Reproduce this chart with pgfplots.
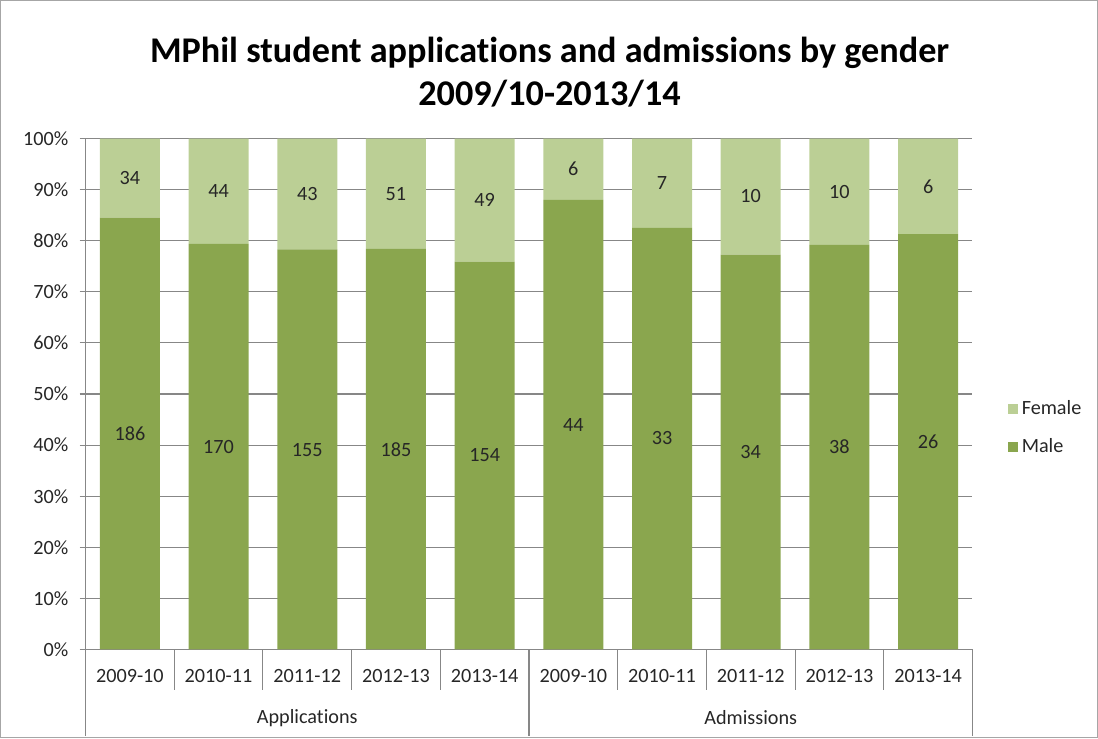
\documentclass[border=0pt]{standalone}
\usepackage{fontspec}
\setmainfont{Carlito}[Ligatures=NoCommon]
\usepackage{pgfplots}
\pgfplotsset{compat=1.18}
\definecolor{male}{HTML}{8AA64E}
\definecolor{female}{HTML}{BBCF95}
\definecolor{gridgray}{HTML}{878787}
\definecolor{txt}{HTML}{262626}

\begin{document}
\begin{tikzpicture}
% outer chart frame
\draw[gray!70, line width=0.6pt] (0,0) rectangle (21.94,-14.74);

% title
\node[align=center, text=black, font=\fontsize{20.6}{24.5}\selectfont\bfseries]
  at (10.98,-1.43) {MPhil student applications and admissions by gender\\2009/10-2013/14};

% bars
\begin{axis}[
  at={(1.70cm,-12.98cm)}, anchor=south west,
  scale only axis, width=17.74cm, height=10.22cm,
  ybar stacked, bar width=1.2cm,
  xmin=-0.5, xmax=9.5, ymin=0, ymax=100,
  xtick={0,...,9},
  xticklabels={2009-10,2010-11,2011-12,2012-13,2013-14,2009-10,2010-11,2011-12,2012-13,2013-14},
  ytick={0,10,...,100},
  yticklabels={0\%,10\%,20\%,30\%,40\%,50\%,60\%,70\%,80\%,90\%,100\%},
  x tick style={draw=none},
  y tick style={gridgray, line width=0.6pt},
  major tick length=0.12cm, tick align=outside,
  ymajorgrids, grid style={gridgray, line width=0.6pt},
  axis lines*=left, axis line style={gridgray, line width=0.6pt},
  ticklabel style={font=\fontsize{11.5}{13}\selectfont, text=txt},
  x tick label style={anchor=center, yshift=-0.42cm},
  y tick label style={xshift=-0.1cm},
  clip=false,
  reverse legend,
  legend cell align=left,
  legend style={at={(1.034,0.434)}, anchor=west, draw=none, fill=none,
    font=\fontsize{11.5}{13}\selectfont, text=txt, row sep=0.28cm},
  legend image code/.code={\fill[#1] (0cm,-0.1cm) rectangle (0.2cm,0.1cm);},
]
\addplot[fill=male, draw=none] coordinates {
  (0,84.5)(1,79.4)(2,78.3)(3,78.4)(4,75.9)(5,88.0)(6,82.5)(7,77.3)(8,79.2)(9,81.3)};
\addplot[fill=female, draw=none] coordinates {
  (0,15.5)(1,20.6)(2,21.7)(3,21.6)(4,24.1)(5,12.0)(6,17.5)(7,22.7)(8,20.8)(9,18.7)};
\legend{Male,Female}

% category separators below the axis
\pgfplotsinvokeforeach{0.5,1.5,2.5,3.5,5.5,6.5,7.5,8.5}{
  \draw[gridgray, line width=0.6pt] (axis cs:#1,0) -- ([yshift=-0.82cm]axis cs:#1,0);}
\pgfplotsinvokeforeach{-0.5,4.5,9.5}{
  \draw[gridgray, line width=0.6pt] (axis cs:#1,0) -- ([yshift=-1.74cm]axis cs:#1,0);}
\node[font=\fontsize{11.5}{13}\selectfont, text=txt] at ([yshift=-1.37cm]axis cs:2,0) {Applications};
\node[font=\fontsize{11.5}{13}\selectfont, text=txt] at ([yshift=-1.37cm]axis cs:7,0) {Admissions};
\end{axis}

% value labels (counts), centred in each segment
\begin{axis}[
  at={(1.70cm,-12.98cm)}, anchor=south west,
  scale only axis, width=17.74cm, height=10.22cm,
  xmin=-0.5, xmax=9.5, ymin=0, ymax=100,
  hide axis, clip=false,
]
\addplot[only marks, mark=*, mark size=0pt, mark options={draw=none, fill=none},
  nodes near coords, point meta=explicit symbolic,
  nodes near coords style={anchor=center, font=\fontsize{11.5}{13}\selectfont, text=txt}]
  coordinates {
  (0,42.3)[186] (1,39.7)[170] (2,39.1)[155] (3,39.2)[185] (4,38.0)[154]
  (5,44.0)[44] (6,41.3)[33] (7,38.6)[34] (8,39.6)[38] (9,40.6)[26]
  (0,92.3)[34] (1,89.7)[44] (2,89.2)[43] (3,89.2)[51] (4,88.0)[49]
  (5,94.0)[6] (6,91.3)[7] (7,88.7)[10] (8,89.6)[10] (9,90.6)[6]};
\end{axis}
\end{tikzpicture}
\end{document}
